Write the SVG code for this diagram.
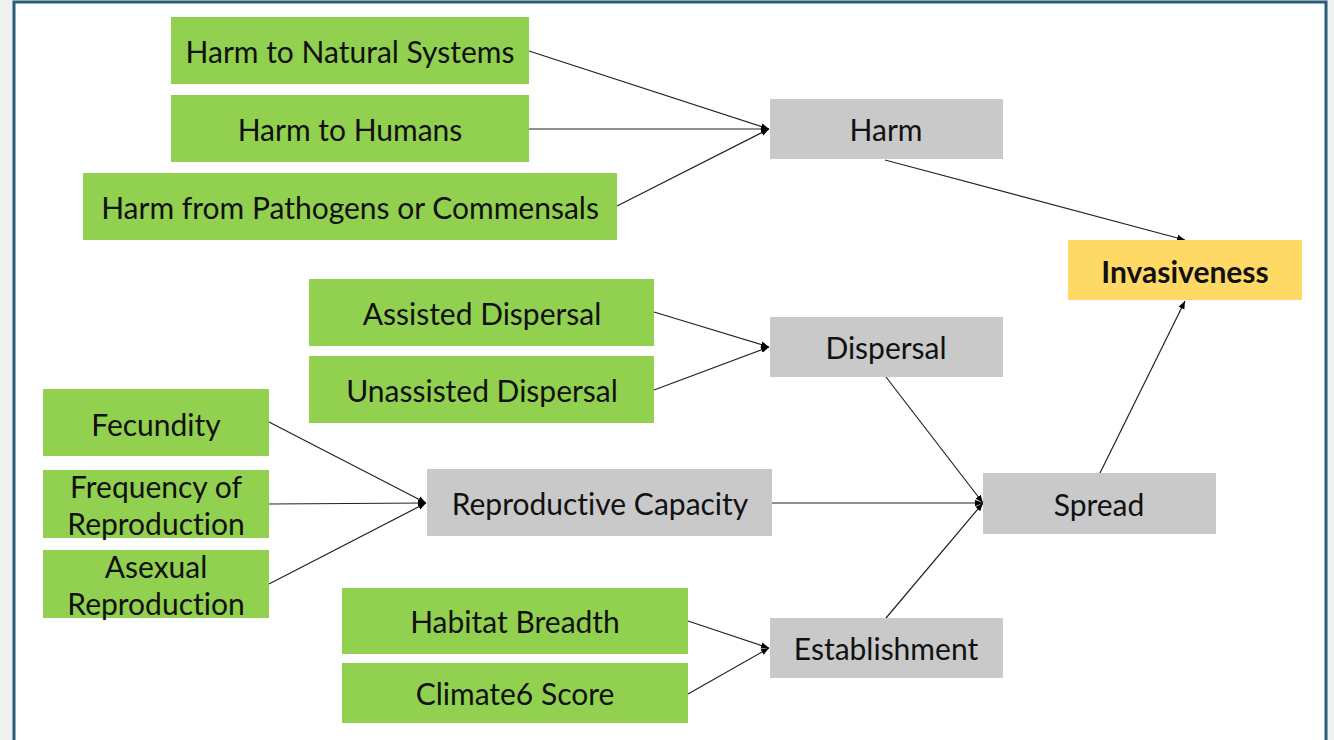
<svg xmlns="http://www.w3.org/2000/svg" width="1334" height="740" viewBox="0 0 1334 740">
<defs>
<style>
.g{fill:#92d050}
.s{fill:#c9c9c9}
.y{fill:#ffd966}
text{font-family:Lato,"Open Sans","Liberation Sans",sans-serif;font-size:30px;fill:#111;text-anchor:middle;dominant-baseline:central;font-variant-ligatures:none}
.b{font-weight:bold}
.c line{stroke:#222;stroke-width:1.2;marker-end:url(#ah)}
</style>
<marker id="ah" viewBox="0 0 10 10" refX="10" refY="5" markerWidth="8" markerHeight="8" markerUnits="userSpaceOnUse" orient="auto">
<path d="M0,1 L10,5 L0,9 z" fill="#000"/>
</marker>
</defs>
<rect x="0" y="0" width="1334" height="740" fill="#eff1f0"/>
<rect x="14" y="2" width="1312" height="745" fill="#fff" stroke="#2a5d78" stroke-width="3"/>

<g class="c">
<line x1="529" y1="51" x2="769" y2="129"/>
<line x1="529" y1="129" x2="769" y2="129"/>
<line x1="617" y1="206" x2="769" y2="129"/>
<line x1="885" y1="160" x2="1185" y2="240"/>
<line x1="654" y1="312" x2="769" y2="347"/>
<line x1="654" y1="390" x2="769" y2="347"/>
<line x1="269" y1="422" x2="426" y2="503"/>
<line x1="269" y1="504" x2="426" y2="503"/>
<line x1="269" y1="584" x2="426" y2="503"/>
<line x1="886" y1="377" x2="983" y2="503"/>
<line x1="772" y1="503" x2="983" y2="503"/>
<line x1="886" y1="618" x2="983" y2="503"/>
<line x1="688" y1="621" x2="769" y2="648"/>
<line x1="688" y1="694" x2="769" y2="648"/>
<line x1="1100" y1="473" x2="1185" y2="301"/>
</g>

<g id="n-harm-natural"><rect class="g" x="171" y="17" width="358" height="67"/><text x="350" y="51">Harm to Natural Systems</text></g>
<g id="n-harm-humans"><rect class="g" x="171" y="95" width="358" height="67"/><text x="350" y="129">Harm to Humans</text></g>
<g id="n-harm-pathogens"><rect class="g" x="83" y="173" width="534" height="67"/><text x="350" y="207">Harm from Pathogens or Commensals</text></g>
<g id="n-harm"><rect class="s" x="770" y="99" width="233" height="60"/><text x="886" y="129">Harm</text></g>
<g id="n-invasiveness"><rect class="y" x="1068" y="240" width="234" height="60"/><text class="b" x="1185" y="271">Invasiveness</text></g>
<g id="n-assisted"><rect class="g" x="309" y="279" width="345" height="67"/><text x="482" y="313">Assisted Dispersal</text></g>
<g id="n-unassisted"><rect class="g" x="309" y="356" width="345" height="67"/><text x="482" y="390">Unassisted Dispersal</text></g>
<g id="n-dispersal"><rect class="s" x="770" y="317" width="233" height="60"/><text x="886" y="347">Dispersal</text></g>
<g id="n-fecundity"><rect class="g" x="43" y="389" width="226" height="67"/><text x="156" y="424">Fecundity</text></g>
<g id="n-frequency"><rect class="g" x="43" y="470" width="226" height="68"/><text x="156" y="486">Frequency of</text><text x="156" y="523">Reproduction</text></g>
<g id="n-asexual"><rect class="g" x="43" y="550" width="226" height="68"/><text x="156" y="566">Asexual</text><text x="156" y="603">Reproduction</text></g>
<g id="n-repcap"><rect class="s" x="427" y="469" width="345" height="67"/><text x="600" y="503">Reproductive Capacity</text></g>
<g id="n-spread"><rect class="s" x="983" y="473" width="233" height="61"/><text x="1099" y="504">Spread</text></g>
<g id="n-habitat"><rect class="g" x="342" y="588" width="346" height="66"/><text x="515" y="621">Habitat Breadth</text></g>
<g id="n-climate"><rect class="g" x="342" y="663" width="346" height="60"/><text x="515" y="693">Climate6 Score</text></g>
<g id="n-establishment"><rect class="s" x="770" y="618" width="233" height="60"/><text x="886" y="648">Establishment</text></g>
</svg>
